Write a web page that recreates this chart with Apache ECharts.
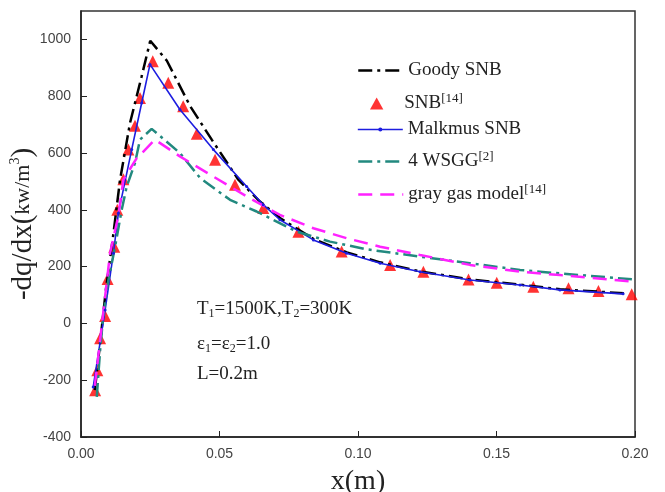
<!DOCTYPE html>
<html>
<head>
<meta charset="utf-8">
<script src="https://cdn.jsdelivr.net/npm/echarts@6/dist/echarts.min.js"></script>
<style>
  html, body { margin: 0; padding: 0; background: #fff; }
  #chart { width: 665px; height: 492px; }
</style>
</head>
<body>
<div id="chart"></div>
<script>
// data: [x (m), -dq/dx (kW/m^3)]
const goodySNB = [[0.005,-235],[0.007,-60],[0.009,120],[0.0115,300],[0.0141,506],[0.0177,706],[0.0219,870],[0.025,995],
  [0.031,925],[0.0394,765],[0.0472,647],[0.0568,506],[0.0646,429],[0.072,370],[0.084,297],[0.096,250],[0.108,215],
  [0.122,184],[0.14,155],[0.158,137],[0.173,120],[0.196,106]];
const snb14 = [[0.0051,-235],[0.0059,-165],[0.0069,-52],[0.0087,26],[0.0096,156],[0.0120,270],[0.0131,400],[0.0153,508],
  [0.0171,612],[0.0195,696],[0.0213,794],[0.0259,923],[0.0315,847],[0.0369,765],[0.0418,668],[0.0484,576],[0.0556,488],
  [0.0658,406],[0.0785,323],[0.0941,253],[0.1116,206],[0.1236,182],[0.1399,155],[0.1501,143],[0.1633,129],[0.176,124],
  [0.1868,114],[0.1988,103]];
const malkmusSNB = [[0.0044,-224],[0.0087,47],[0.0117,247],[0.0135,388],[0.0183,612],[0.0219,776],[0.0249,912],
  [0.0357,753],[0.0478,612],[0.0598,482],[0.0658,418],[0.0718,365],[0.0839,294],[0.0959,247],[0.108,212],[0.1224,182],
  [0.1404,153],[0.1585,135],[0.1729,118],[0.1957,104]];
const wsgg4 = [[0.0057,-259],[0.0069,-94],[0.008,23],[0.0099,153],[0.0123,270],[0.0147,400],[0.0165,482],[0.0195,565],
  [0.0213,647],[0.0255,685],[0.0357,600],[0.043,512],[0.0538,435],[0.0634,394],[0.0779,323],[0.0899,288],[0.1031,261],
  [0.1224,235],[0.1404,212],[0.1585,188],[0.1729,176],[0.1994,155]];
const grayGas = [[0.005,-220],[0.0069,-59],[0.0105,248],[0.0135,380],[0.0153,506],[0.02,580],[0.0267,647],[0.0357,588],
  [0.0478,517],[0.0598,447],[0.0718,382],[0.0839,335],[0.0959,300],[0.108,270],[0.1224,241],[0.1404,206],[0.1585,182],
  [0.1729,170],[0.1994,147]];

const legendNames = ['Goody SNB', 'SNB', 'Malkmus SNB', '4 WSGG', 'gray gas model'];
const legendSup = { 'Goody SNB': '', 'SNB': '[14]', 'Malkmus SNB': '', '4 WSGG': '[2]', 'gray gas model': '[14]' };
const legendTops = [56, 87, 115, 145, 178];

const serif = '"Liberation Serif", "DejaVu Serif", serif';
const sans = '"Liberation Sans", Arial, sans-serif';

const COLORS = { goody: '#000', snb: '#ff0000', malk: '#1d1de0', wsgg: '#22897f', gray: '#ff22ff' };
const DASH = { goody: [14, 5, 3, 5], wsgg: [14, 5, 3, 5], gray: [14, 8] };

const chart = echarts.init(document.getElementById('chart'));

function legendFor(i, extra) {
  const n = legendNames[i];
  return Object.assign({
    data: [n],
    left: 352,
    top: legendTops[i],
    itemWidth: 45,
    itemHeight: 12,
    selectedMode: false,
    formatter: name => legendSup[name] ? name + '{sup|' + legendSup[name] + '}' : name,
    textStyle: {
      fontFamily: serif, fontSize: 19, color: '#222',
      rich: { sup: { fontFamily: serif, fontSize: 13, color: '#222', padding: [0, 0, 10, 0] } }
    }
  }, extra);
}

const legends = [
  legendFor(0, { itemStyle: { opacity: 0 }, lineStyle: { type: DASH.goody, width: 2.5 } }),
  // group is placed by its bounding box, so left is the triangle's own left edge
  legendFor(1, { left: 365, data: [{ name: 'SNB', icon: 'path://M5,0 L10,9 L0,9 Z' }] }),
  legendFor(2, { itemHeight: 5, lineStyle: { width: 1.6 } }),
  legendFor(3, { itemStyle: { opacity: 0 }, lineStyle: { type: DASH.wsgg, width: 2.5 } }),
  legendFor(4, { itemStyle: { opacity: 0 }, lineStyle: { type: DASH.gray, width: 2.5 } })
];

const sub = { fontFamily: serif, fontSize: 12, color: '#222', padding: [8, 0, 0, 0] };

chart.setOption({
  animation: false,
  grid: {
    left: 81, right: 30, top: 11, bottom: 55, outerBoundsMode: 'none',
    show: true, borderColor: '#333', borderWidth: 1.5
  },
  legend: legends,
  xAxis: {
    type: 'value', min: 0, max: 0.2, interval: 0.05,
    name: 'x(m)', nameLocation: 'middle', nameGap: 31,
    nameTextStyle: { fontFamily: serif, fontSize: 28, color: '#222' },
    axisLine: { onZero: false, lineStyle: { color: '#222', width: 1.5 } },
    axisTick: { inside: true, length: 6, lineStyle: { color: '#222' } },
    axisLabel: { formatter: v => v.toFixed(2), fontFamily: sans, fontSize: 14, color: '#444', margin: 10 },
    splitLine: { show: false }
  },
  yAxis: {
    type: 'value', min: -400, max: 1100, interval: 200,
    name: '{big|-dq/dx(}{small|kw/m}{sup|3}{big|)}', nameLocation: 'middle', nameGap: 42, nameRotate: 90,
    nameMoveOverlap: false,
    nameTextStyle: {
      fontFamily: serif, fontSize: 29, color: '#222',
      rich: {
        big: { fontFamily: serif, fontSize: 29, color: '#222' },
        small: { fontFamily: serif, fontSize: 22, color: '#222' },
        sup: { fontFamily: serif, fontSize: 14, color: '#222', padding: [0, 0, 17, 0] }
      }
    },
    axisLine: { onZero: false, lineStyle: { color: '#222', width: 1.5 } },
    axisTick: { inside: true, length: 6, lineStyle: { color: '#222' } },
    axisLabel: { showMaxLabel: false, formatter: v => String(v), fontFamily: sans, fontSize: 14, color: '#444', margin: 10 },
    splitLine: { show: false }
  },
  graphic: [
    { type: 'text', left: 197, top: 300, style: {
      text: 'T{s|1}=1500K,T{s|2}=300K', font: '19px ' + serif, fill: '#222', rich: { s: sub } } },
    { type: 'text', left: 197, top: 335, style: {
      text: 'ε{s|1}=ε{s|2}=1.0', font: '19px ' + serif, fill: '#222', rich: { s: sub } } },
    { type: 'text', left: 197, top: 365, style: { text: 'L=0.2m', font: '19px ' + serif, fill: '#222' } }
  ],
  series: [
    {
      name: 'Goody SNB', type: 'line', data: goodySNB, symbol: 'none',
      lineStyle: { color: COLORS.goody, width: 2.5, type: DASH.goody }, itemStyle: { color: COLORS.goody }
    },
    {
      name: 'SNB', type: 'scatter', data: snb14, symbol: 'triangle', symbolSize: 12,
      itemStyle: { color: COLORS.snb }
    },
    {
      name: 'Malkmus SNB', type: 'line', data: malkmusSNB, symbol: 'circle', symbolSize: 3,
      lineStyle: { color: COLORS.malk, width: 1.6 }, itemStyle: { color: COLORS.malk }
    },
    {
      name: '4 WSGG', type: 'line', data: wsgg4, symbol: 'none',
      lineStyle: { color: COLORS.wsgg, width: 2.5, type: DASH.wsgg }, itemStyle: { color: COLORS.wsgg }
    },
    {
      name: 'gray gas model', type: 'line', data: grayGas, symbol: 'none',
      lineStyle: { color: COLORS.gray, width: 2.5, type: DASH.gray }, itemStyle: { color: COLORS.gray }
    }
  ]
});
</script>
</body>
</html>
